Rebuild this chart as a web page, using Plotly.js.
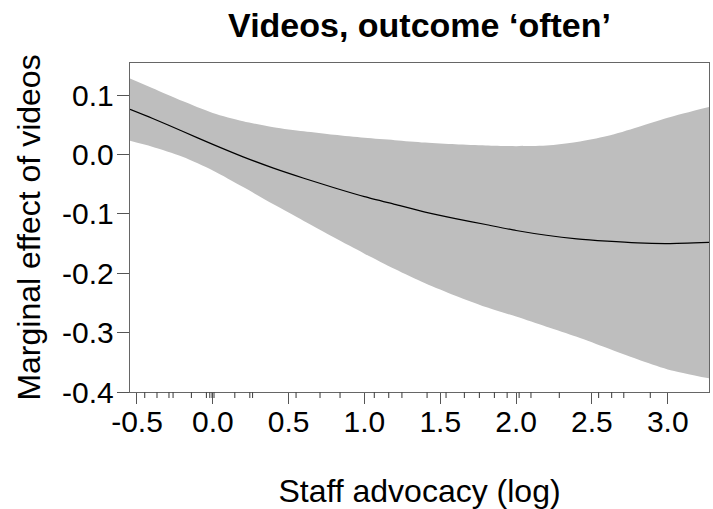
<!DOCTYPE html>
<html>
<head>
<meta charset="utf-8">
<script src="https://cdn.plot.ly/plotly-3.0.1.min.js"></script>
<style>html,body{margin:0;padding:0;background:#fff;}#chart{width:713px;height:509px;}</style>
</head>
<body>
<div id="chart"></div>
<script>
// Staff advocacy (log) grid
const xGrid = [-0.546, -0.4, -0.2, 0.0, 0.2, 0.4, 0.6, 0.8, 1.0, 1.2, 1.4, 1.6, 1.8, 2.0, 2.2, 2.4, 2.6, 2.8, 3.0, 3.272];
// Marginal effect of videos (point estimate)
const effect = [0.076, 0.061, 0.039, 0.017, -0.004, -0.023, -0.040, -0.056, -0.071, -0.084, -0.097, -0.108, -0.118, -0.128, -0.136, -0.142, -0.146, -0.149, -0.150, -0.148];
// Confidence band
const upper = [0.128, 0.112, 0.090, 0.070, 0.056, 0.046, 0.039, 0.033, 0.028, 0.024, 0.020, 0.017, 0.015, 0.014, 0.015, 0.021, 0.031, 0.046, 0.062, 0.080];
const lower = [0.023, 0.013, -0.004, -0.027, -0.055, -0.084, -0.112, -0.140, -0.167, -0.193, -0.217, -0.238, -0.257, -0.273, -0.290, -0.307, -0.326, -0.345, -0.362, -0.377];
// Rug of observed staff advocacy values
const rug = [-0.449, -0.368, -0.289, -0.262, -0.141, -0.042, -0.02, -0.005, 0.008, 0.145, 0.244, 0.262, 0.549, 0.707, 0.839, 1.065, 1.16, 1.247, 1.413, 1.538, 1.659, 1.758, 1.857, 1.941, 2.02, 2.098, 2.285, 2.544, 2.63, 2.71, 2.885];
// Tick labels
const xTickVals = [-0.5, 0.0, 0.5, 1.0, 1.5, 2.0, 2.5, 3.0];
const xTickText = ['-0.5', '0.0', '0.5', '1.0', '1.5', '2.0', '2.5', '3.0'];
const yTickVals = [-0.4, -0.3, -0.2, -0.1, 0.0, 0.1];
const yTickText = ['-0.4', '-0.3', '-0.2', '-0.1', '0.0', '0.1'];

const rugX = [], rugY = [];
rug.forEach(v => { rugX.push(v, v, null); rugY.push(0, 1, null); });

const FONT = 'Liberation Sans, Arial, sans-serif';
const traces = [
  {x: xGrid, y: lower, type: 'scatter', mode: 'lines', line: {width: 0, color: 'rgba(0,0,0,0)', shape: 'spline', smoothing: 0.8}, hoverinfo: 'skip', showlegend: false},
  {x: xGrid, y: upper, type: 'scatter', mode: 'lines', fill: 'tonexty', fillcolor: '#bebebe', line: {width: 0, color: 'rgba(0,0,0,0)', shape: 'spline', smoothing: 0.8}, hoverinfo: 'skip', showlegend: false},
  {x: xGrid, y: effect, type: 'scatter', mode: 'lines', line: {color: '#000', width: 1.2, shape: 'spline', smoothing: 0.6}, showlegend: false},
  {x: rugX, y: rugY, xaxis: 'x', yaxis: 'y2', type: 'scatter', mode: 'lines', line: {color: '#484848', width: 1.1}, showlegend: false}
];

const layout = {
  width: 713, height: 509,
  margin: {l: 130, r: 4, t: 63, b: 111, pad: 0},
  paper_bgcolor: '#fff', plot_bgcolor: '#fff',
  font: {family: FONT, color: '#000'},
  title: {text: 'Videos, outcome \u2018often\u2019', font: {family: FONT, size: 34, weight: 'bold', color: '#000'},
          x: 0.5, xref: 'paper', xanchor: 'center', y: 1 - 25/509, yref: 'container', yanchor: 'middle'},
  xaxis: {
    range: [-0.546, 3.272], anchor: 'y',
    tickmode: 'array', tickvals: xTickVals, ticktext: xTickText,
    ticks: 'outside', ticklen: 11, tickwidth: 1, tickcolor: '#555',
    tickfont: {family: FONT, size: 30, color: '#000'},
    showline: true, linecolor: '#666', linewidth: 1.3, mirror: true,
    showgrid: false, zeroline: false,
    ticklabelstandoff: -8,
    title: {text: 'Staff advocacy (log)', font: {family: FONT, size: 32, color: '#000'}, standoff: 44}
  },
  yaxis: {
    range: [-0.4, 0.154], domain: [6/335, 1], anchor: 'x',
    tickmode: 'array', tickvals: yTickVals, ticktext: yTickText,
    ticks: 'outside', ticklen: 12, tickwidth: 1, tickcolor: '#555',
    tickfont: {family: FONT, size: 30, color: '#000'},
    showline: true, linecolor: '#666', linewidth: 1.3, mirror: true,
    showgrid: false, zeroline: false,
    ticklabelstandoff: -3,
    title: {text: 'Marginal effect of videos', font: {family: FONT, size: 32, color: '#000'}, standoff: 11}
  },
  yaxis2: {
    range: [0, 1], domain: [0, 6/335], anchor: 'x',
    showline: false, showgrid: false, zeroline: false, showticklabels: false, ticks: ''
  }
};

Plotly.newPlot('chart', traces, layout, {staticPlot: true, displayModeBar: false});
</script>
</body>
</html>
